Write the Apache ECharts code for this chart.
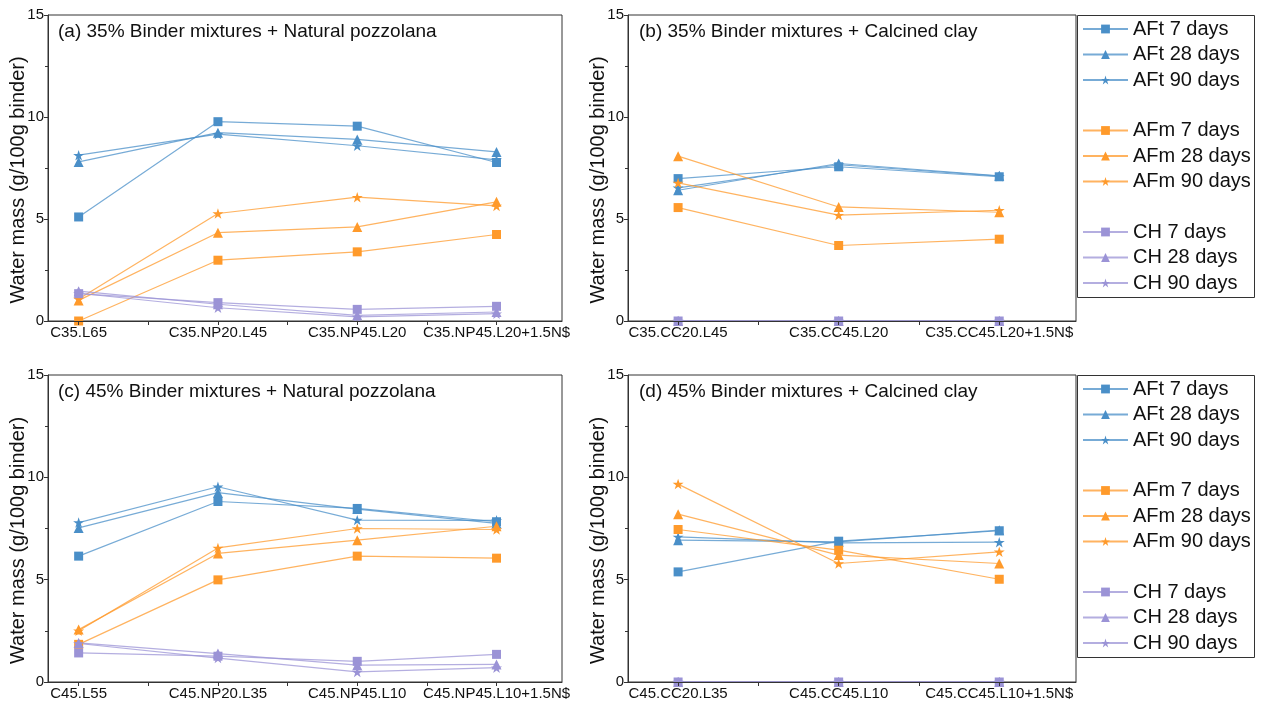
<!DOCTYPE html>
<html>
<head>
<meta charset="utf-8">
<script src="https://cdn.jsdelivr.net/npm/echarts@6/dist/echarts.min.js"></script>
<style>
  html, body { margin: 0; padding: 0; background: #fff; }
  #chart { width: 1261px; height: 706px; }
</style>
</head>
<body>
<div id="chart"></div>
<script>
// ---- Data: water bound in AFt, AFm and CH (g/100g binder) ----
const catsA = ['C35.L65', 'C35.NP20.L45', 'C35.NP45.L20', 'C35.NP45.L20+1.5N$'];
const catsB = ['C35.CC20.L45', 'C35.CC45.L20', 'C35.CC45.L20+1.5N$'];
const catsC = ['C45.L55', 'C45.NP20.L35', 'C45.NP45.L10', 'C45.NP45.L10+1.5N$'];
const catsD = ['C45.CC20.L35', 'C45.CC45.L10', 'C45.CC45.L10+1.5N$'];

const yTicks = [0, 5, 10, 15];

// (a) 35% binder + natural pozzolana
const aAFt7  = [5.10, 9.77, 9.55, 7.77];
const aAFt28 = [7.80, 9.23, 8.90, 8.29];
const aAFt90 = [8.13, 9.16, 8.59, 7.90];
const aAFm7  = [0.00, 2.98, 3.39, 4.24];
const aAFm28 = [1.01, 4.33, 4.61, 5.84];
const aAFm90 = [1.08, 5.27, 6.07, 5.64];
const aCH7   = [1.34, 0.90, 0.57, 0.72];
const aCH28  = [1.46, 0.82, 0.28, 0.44];
const aCH90  = [1.36, 0.65, 0.20, 0.36];

// (b) 35% binder + calcined clay
const bAFt7  = [6.98, 7.56, 7.07];
const bAFt28 = [6.41, 7.72, 7.12];
const bAFt90 = [6.53, 7.66, 7.10];
const bAFm7  = [5.56, 3.70, 4.01];
const bAFm28 = [8.08, 5.59, 5.33];
const bAFm90 = [6.77, 5.19, 5.43];
const bCH7   = [0, 0, 0];
const bCH28  = [0, 0, 0];
const bCH90  = [0, 0, 0];

// (c) 45% binder + natural pozzolana
const cAFt7  = [6.15, 8.82, 8.48, 7.83];
const cAFt28 = [7.53, 9.25, 8.45, 7.75];
const cAFt90 = [7.79, 9.54, 7.91, 7.90];
const cAFm7  = [1.84, 4.99, 6.15, 6.05];
const cAFm28 = [2.56, 6.28, 6.93, 7.61];
const cAFm90 = [2.50, 6.55, 7.50, 7.45];
const cCH7   = [1.42, 1.26, 1.01, 1.35];
const cCH28  = [1.91, 1.39, 0.82, 0.86];
const cCH90  = [1.88, 1.17, 0.49, 0.70];

// (d) 45% binder + calcined clay
const dAFt7  = [5.38, 6.88, 7.39];
const dAFt28 = [6.93, 6.85, 7.42];
const dAFt90 = [7.09, 6.80, 6.83];
const dAFm7  = [7.45, 6.44, 5.02];
const dAFm28 = [8.20, 6.20, 5.79];
const dAFm90 = [9.67, 5.79, 6.36];
const dCH7   = [0, 0, 0];
const dCH28  = [0, 0, 0];
const dCH90  = [0, 0, 0];

const seriesNames = ['AFt 7 days', 'AFt 28 days', 'AFt 90 days',
                     'AFm 7 days', 'AFm 28 days', 'AFm 90 days',
                     'CH 7 days', 'CH 28 days', 'CH 90 days'];

// ---- Styling ----
const FONT = 'Liberation Sans, Arial, sans-serif';
const BLUE = '#4a8fc8', ORANGE = '#ff9a2b', PURPLE = '#9b93d6';
const colors = [BLUE, BLUE, BLUE, ORANGE, ORANGE, ORANGE, PURPLE, PURPLE, PURPLE];
const STAR = 'path://M50,0 L61.2,34.5 L97.6,34.5 L68.2,55.9 L79.4,90.5 L50,69.1 L20.6,90.5 L31.8,55.9 L2.4,34.5 L38.8,34.5 Z';
const symbols = ['rect', 'triangle', STAR, 'rect', 'triangle', STAR, 'rect', 'triangle', STAR];
const symSizes = [9, 10, 11, 9, 10, 11, 9, 10, 11];

const panels = [
  { cats: catsA, title: '(a) 35% Binder mixtures + Natural pozzolana',
    data: [aAFt7, aAFt28, aAFt90, aAFm7, aAFm28, aAFm90, aCH7, aCH28, aCH90],
    grid: { left: 48, top: 15, width: 514, height: 306 }, xMin: 0.78, xMax: 4.47 },
  { cats: catsB, title: '(b) 35% Binder mixtures + Calcined clay',
    data: [bAFt7, bAFt28, bAFt90, bAFm7, bAFm28, bAFm90, bCH7, bCH28, bCH90],
    grid: { left: 628, top: 15, width: 448, height: 306 }, xMin: 0.688, xMax: 3.478 },
  { cats: catsC, title: '(c) 45% Binder mixtures + Natural pozzolana',
    data: [cAFt7, cAFt28, cAFt90, cAFm7, cAFm28, cAFm90, cCH7, cCH28, cCH90],
    grid: { left: 48, top: 375, width: 514, height: 307 }, xMin: 0.78, xMax: 4.47 },
  { cats: catsD, title: '(d) 45% Binder mixtures + Calcined clay',
    data: [dAFt7, dAFt28, dAFt90, dAFm7, dAFm28, dAFm90, dCH7, dCH28, dCH90],
    grid: { left: 628, top: 375, width: 448, height: 307 }, xMin: 0.688, xMax: 3.478 }
];

const grids = [], xAxes = [], yAxes = [], series = [], graphics = [];

panels.forEach((p, gi) => {
  grids.push(Object.assign({ show: true, borderColor: '#333', borderWidth: 1, backgroundColor: 'transparent' }, p.grid));

  const labelVals = p.cats.map((c, i) => i + 1);
  const tickVals = [];
  for (let v = 1; v <= p.cats.length + 0.5; v += 0.5) if (v <= p.xMax) tickVals.push(v);

  xAxes.push({
    gridIndex: gi, type: 'value', min: p.xMin, max: p.xMax, z: 5,
    splitLine: { show: false },
    axisLine: { onZero: false, lineStyle: { color: '#333', width: 1 } },
    axisTick: { show: true, length: 4, customValues: tickVals, lineStyle: { color: '#333' } },
    axisLabel: {
      customValues: labelVals, margin: 4, color: '#111', fontSize: 15, fontFamily: FONT,
      formatter: v => p.cats[Math.round(v) - 1]
    }
  });

  yAxes.push({
    gridIndex: gi, type: 'value', min: 0, max: 15, interval: 5, z: 5,
    name: 'Water mass (g/100g binder)', nameLocation: 'middle', nameGap: 20,
    nameMoveOverlap: false,
    nameTextStyle: { fontSize: 20, fontFamily: FONT, color: '#111', padding: [0, 24, 0, 0] },
    splitLine: { show: false },
    axisLine: { show: true, lineStyle: { color: '#333', width: 1 } },
    axisTick: { show: true, length: 4, lineStyle: { color: '#333' } },
    minorTick: { show: true, splitNumber: 2, length: 3, lineStyle: { color: '#333' } },
    axisLabel: { margin: 4, color: '#111', fontSize: 15, fontFamily: FONT,
      customValues: yTicks }
  });

  p.data.forEach((vals, si) => {
    series.push({
      name: seriesNames[si], type: 'line', xAxisIndex: gi, yAxisIndex: gi,
      data: vals.map((v, i) => [i + 1, v]),
      symbol: symbols[si], symbolSize: symSizes[si], symbolKeepAspect: true,
      showAllSymbol: true, clip: false, z: 2,
      itemStyle: { color: colors[si] },
      lineStyle: { color: colors[si], width: 1.2, opacity: 0.75 },
      emphasis: { disabled: true }, animation: false
    });
  });

  graphics.push({
    type: 'text', left: p.grid.left + (gi % 2 === 0 ? 10 : 11), top: p.grid.top + 7,
    style: { text: p.title, font: '19px ' + FONT, fill: '#111' }
  });
});

// Two framed legends, each split into the AFt / AFm / CH groups
const legends = [];
[[15, 19], [375, 379]].forEach(([boxTop, firstTop]) => {
  graphics.push({
    type: 'rect', shape: { x: 1077.5, y: boxTop + 0.5, width: 177, height: 282 },
    style: { fill: 'none', stroke: '#333', lineWidth: 1 }
  });
  [0, 1, 2].forEach(g => {
    legends.push({
      orient: 'vertical', left: 1082, top: firstTop + g * 101.5, padding: 0,
      itemWidth: 45, itemHeight: 11, itemGap: 5.5, selectedMode: false,
      data: seriesNames.slice(g * 3, g * 3 + 3),
      textStyle: { fontSize: 20, lineHeight: 20, fontFamily: FONT, color: '#111' }
    });
  });
});

const chart = echarts.init(document.getElementById('chart'), null, { renderer: 'canvas' });
chart.setOption({
  animation: false,
  backgroundColor: '#fff',
  grid: grids, xAxis: xAxes, yAxis: yAxes,
  legend: legends, series: series, graphic: graphics
});
</script>
</body>
</html>
